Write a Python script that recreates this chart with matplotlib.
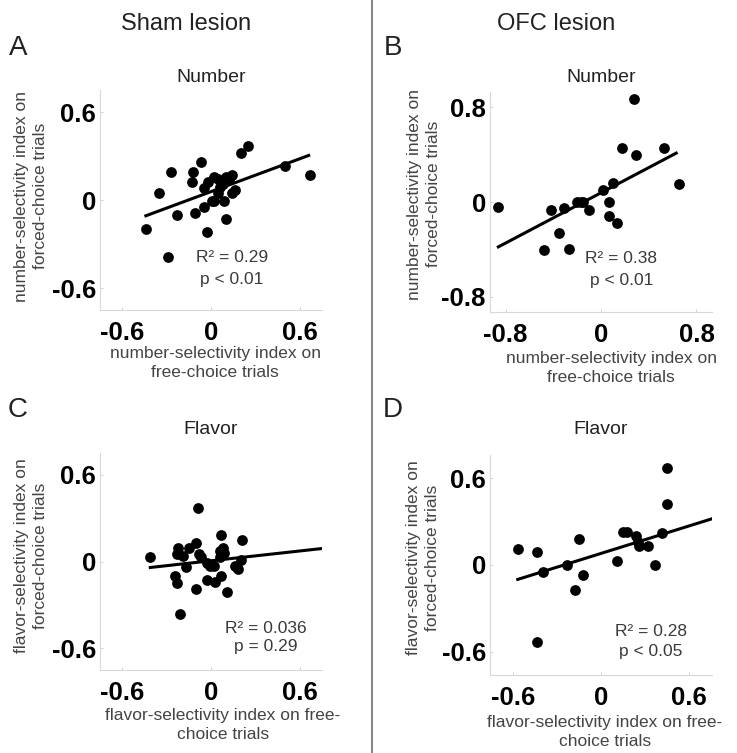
import numpy as np
import matplotlib
matplotlib.use("Agg")
import matplotlib.pyplot as plt

plt.rcParams['font.family'] = ['Liberation Sans', 'DejaVu Sans']

# panel A - sham lesion, number selectivity
sham_num_free = [-0.44, -0.35, -0.27, -0.23, -0.29, -0.12, -0.13, -0.11, -0.07, -0.05, -0.05,
                 -0.03, -0.02, 0.01, 0.02, 0.02, 0.05, 0.05, 0.06, 0.08, 0.09, 0.10, 0.10,
                 0.12, 0.14, 0.14, 0.16, 0.20, 0.25, 0.50, 0.67]
sham_num_forced = [-0.20, 0.05, 0.19, -0.10, -0.39, 0.19, 0.12, -0.09, 0.26, 0.08, -0.05,
                   -0.22, 0.12, -0.01, -0.01, 0.16, 0.14, 0.05, 0.09, 0.11, -0.01, -0.13, 0.16,
                   0.14, 0.17, 0.05, 0.07, 0.32, 0.37, 0.23, 0.17]
# panel B - OFC lesion, number selectivity
ofc_num_free = [-0.86, -0.48, -0.42, -0.35, -0.31, -0.27, -0.20, -0.15, -0.10, 0.02, 0.07,
                0.07, 0.10, 0.13, 0.18, 0.28, 0.29, 0.53, 0.65, -0.17]
ofc_num_forced = [-0.04, -0.41, -0.07, -0.26, -0.05, -0.40, 0.00, 0.00, -0.07, 0.10, 0.00,
                  -0.12, 0.16, -0.18, 0.46, 0.87, 0.40, 0.46, 0.15, 0.00]
# panel C - sham lesion, flavor selectivity
sham_flv_free = [-0.41, -0.22, -0.23, -0.19, -0.24, -0.23, -0.21, -0.17, -0.15, -0.10, -0.09,
                 -0.08, -0.10, -0.07, -0.03, -0.03, -0.01, 0.02, 0.03, 0.06, 0.06, 0.07,
                 0.07, 0.08, 0.09, 0.11, 0.16, 0.18, 0.21, 0.20]
sham_flv_forced = [0.03, 0.09, 0.05, 0.04, -0.10, -0.15, -0.36, -0.04, 0.09, 0.13, 0.37,
                   0.05, -0.19, 0.03, -0.01, -0.13, -0.03, -0.03, -0.14, 0.07, 0.03, -0.10,
                   0.18, 0.09, 0.06, -0.21, -0.03, -0.05, 0.15, 0.01]
# panel D - OFC lesion, flavor selectivity
ofc_flv_free = [-0.57, -0.44, -0.44, -0.40, -0.23, -0.15, -0.18, -0.12, 0.11, 0.15, 0.18,
                0.24, 0.26, 0.32, 0.37, 0.42, 0.45, 0.45, 0.25]
ofc_flv_forced = [0.11, 0.09, -0.53, -0.05, 0.00, 0.18, -0.17, -0.07, 0.03, 0.23, 0.23,
                  0.20, 0.13, 0.13, 0.00, 0.22, 0.42, 0.67, 0.16]

# regression lines as drawn: (slope, intercept, x start, x end)
fit_a = (0.374, 0.057, -0.44, 0.66)
fit_b = (0.532, 0.078, -0.86, 0.63)
fit_c = (0.113, 0.005, -0.41, 0.75)
fit_d = (0.315, 0.080, -0.57, 0.76)

stats_a = ["R\u00b2 = 0.29", "p < 0.01"]
stats_b = ["R\u00b2 = 0.38", "p < 0.01"]
stats_c = ["R\u00b2 = 0.036", "p = 0.29"]
stats_d = ["R\u00b2 = 0.28", "p < 0.05"]

W, H = 737, 753
fig = plt.figure(figsize=(W / 100, H / 100), dpi=100)


def px_axes(l, t, r, b):
    return fig.add_axes([l / W, 1 - b / H, (r - l) / W, (b - t) / H])


def px_text(x, y, s, **kw):
    fig.text(x / W, 1 - y / H, s, **kw)


def panel(box, xs, ys, fit, stats, lim, ticks, stat_xy):
    ax = px_axes(*box)
    ax.scatter(xs, ys, s=60, color='black', zorder=3, linewidths=0)
    m, c, x0, x1 = fit
    lx = np.array([x0, x1])
    ax.plot(lx, m * lx + c, color='black', lw=2.2, zorder=2)
    ax.set_xlim(lim)
    ax.set_ylim(lim)
    ax.set_xticks(ticks)
    ax.set_yticks(ticks)
    labs = ['-%g' % ticks[-1], '0', '%g' % ticks[-1]]
    ax.set_xticklabels(labs, fontweight='bold', fontsize=18.5)
    ax.set_yticklabels(labs, fontweight='bold', fontsize=18.5)
    ax.tick_params(direction='in', length=2.5, width=0.6, color='#cccccc', pad=3)
    ax.tick_params(axis='x', pad=8)
    for sp in ['top', 'right']:
        ax.spines[sp].set_visible(False)
    for sp in ['left', 'bottom']:
        ax.spines[sp].set_color('#d8d8d8')
        ax.spines[sp].set_linewidth(0.8)
    ax.text(stat_xy[0], stat_xy[1], stats[0], ha='center', va='center', fontsize=12.5, color='#3a3a3a')
    ax.text(stat_xy[0], stat_xy[2], stats[1], ha='center', va='center', fontsize=12.5, color='#3a3a3a')
    return ax


panel((100, 90, 322, 310), sham_num_free, sham_num_forced, fit_a, stats_a,
      (-0.75, 0.75), [-0.6, 0, 0.6], (0.14, -0.395, -0.545))
panel((490, 92, 712, 312), ofc_num_free, ofc_num_forced, fit_b, stats_b,
      (-0.93, 0.93), [-0.8, 0, 0.8], (0.17, -0.48, -0.66))
panel((100, 453, 322, 670), sham_flv_free, sham_flv_forced, fit_c, stats_c,
      (-0.75, 0.75), [-0.6, 0, 0.6], (0.37, -0.46, -0.59))
panel((490, 455, 712, 675), ofc_flv_free, ofc_flv_forced, fit_d, stats_d,
      (-0.76, 0.76), [-0.6, 0, 0.6], (0.34, -0.456, -0.60))

# column headers and panel letters
px_text(186, 24, "Sham lesion", ha='center', va='center', fontsize=17, color='#222222')
px_text(556, 24, "OFC lesion", ha='center', va='center', fontsize=17, color='#222222')
for x, y, s in [(18, 48, "A"), (393, 48, "B"), (18, 410, "C"), (393, 410, "D")]:
    px_text(x, y, s, ha='center', va='center', fontsize=20, color='#222222')
for x, y, s in [(211, 77, "Number"), (601, 77, "Number"), (211, 429, "Flavor"), (601, 429, "Flavor")]:
    px_text(x, y, s, ha='center', va='center', fontsize=14, color='#222222')

lab = dict(ha='center', va='center', fontsize=12.5, color='#444444', linespacing=1.3)
px_text(31, 196, "number-selectivity index on\nforced-choice trials", rotation=90, **lab)
px_text(424, 194, "number-selectivity index on\nforced-choice trials", rotation=90, **lab)
px_text(31, 556, "flavor-selectivity index on\nforced-choice trials", rotation=90, **lab)
px_text(423, 558, "flavor-selectivity index on\nforced-choice trials", rotation=90, **lab)
px_text(215, 363, "number-selectivity index on\nfree-choice trials", **lab)
px_text(611, 368, "number-selectivity index on\nfree-choice trials", **lab)
px_text(223, 725, "flavor-selectivity index on free-\nchoice trials", **lab)
px_text(605, 732, "flavor-selectivity index on free-\nchoice trials", **lab)

# vertical divider between the two columns
fig.add_artist(plt.Line2D([372 / W, 372 / W], [0, 1], color='#888888', lw=1.5))

fig.savefig("out.png", dpi=100, facecolor='white')
